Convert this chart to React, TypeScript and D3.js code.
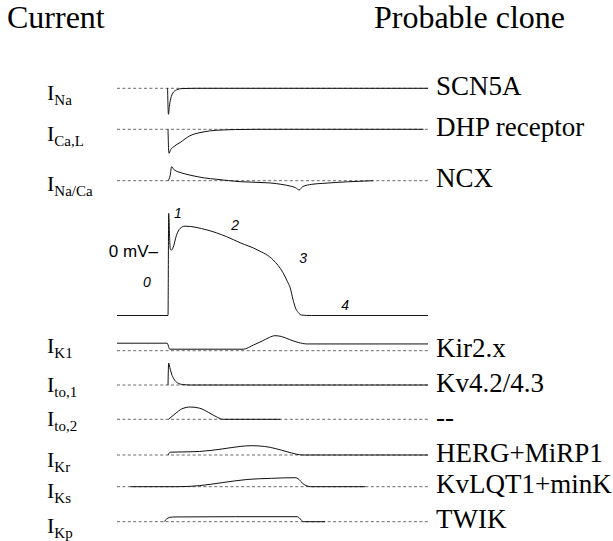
import { useEffect, useRef } from "react";
import * as d3 from "d3";

// time in ms, 0 = upstroke of the action potential
// action potential (mV)
const apTime = [-115, -1, 0.5, 2.5, 4, 6, 10, 18, 26, 37, 86, 130, 160, 200, 234, 256, 266, 272, 278, 284, 290, 298, 320, 580];
const apMv = [-85, -85, 51, 20, 4, 2, 5, 22, 31, 34, 29, 20, 12, 2, -11, -28, -40, -48, -63, -75, -81, -84.5, -85, -85];

// phase numbers on the action potential
const phaseText = ["0", "1", "2", "3", "4"];
const phaseTime = [-48, 21, 149, 301, 395];
const phaseMv = [-40, 51, 35, -8.4, -71];

// currents, relative units (outward positive)
const naTime = [-2, 0, 2, 5, 10, 18, 30, 60, 580];
const naVal = [0, -1, -0.7, -0.4, -0.18, -0.06, -0.01, 0, 0];

const caTime = [-1, 1, 5, 12, 26, 48, 75, 108, 150, 200, 570];
const caVal = [0, -1, -0.85, -0.72, -0.55, -0.27, -0.12, -0.04, -0.01, 0, 0];

const ncxTime = [-1, 4, 7, 12, 30, 48, 80, 108, 160, 227, 256, 272, 284, 292, 300, 320, 345, 400, 457];
const ncxVal = [0, 0.4, 1, 0.8, 0.55, 0.4, 0.2, 0.1, -0.07, -0.16, -0.28, -0.38, -0.5, -0.66, -0.42, -0.26, -0.19, -0.08, 0];

const k1Time = [-115, -3, 3, 167, 190, 210, 225, 238, 252, 270, 290, 310, 580];
const k1Val = [0.5, 0.5, 0.1, 0.1, 0.38, 0.65, 0.88, 1, 0.95, 0.75, 0.55, 0.45, 0.45];

const to1Time = [-1, 0.5, 3, 7, 12, 20, 32, 50, 580];
const to1Val = [0, 1, 0.8, 0.5, 0.28, 0.1, 0.02, 0, 0];

const to2Time = [0, 15, 30, 49, 70, 90, 110, 122, 250];
const to2Val = [0, 0.45, 0.85, 1, 0.9, 0.55, 0.15, 0, 0];

const krTime = [-1, 4, 30, 70, 120, 160, 185, 215, 240, 265, 285, 300, 580];
const krVal = [0, 0.3, 0.33, 0.38, 0.65, 0.92, 1, 0.92, 0.68, 0.35, 0.1, 0, 0];

const ksTime = [-85, 20, 70, 120, 175, 230, 283, 292, 300, 310, 318, 440];
const ksVal = [0, 0, 0.12, 0.45, 0.8, 0.93, 1, 0.8, 0.35, 0.08, 0, 0];

const kpTime = [-10, -4, 2, 15, 150, 288, 296, 302, 350];
const kpVal = [0, 0.55, 0.85, 0.95, 1, 1, 0.4, 0, 0];

const currents = [
  { sub: "Na", clone: "SCN5A", t: naTime, v: naVal },
  { sub: "Ca,L", clone: "DHP receptor", t: caTime, v: caVal },
  { sub: "Na/Ca", clone: "NCX", t: ncxTime, v: ncxVal },
  { sub: "K1", clone: "Kir2.x", t: k1Time, v: k1Val },
  { sub: "to,1", clone: "Kv4.2/4.3", t: to1Time, v: to1Val },
  { sub: "to,2", clone: "--", t: to2Time, v: to2Val },
  { sub: "Kr", clone: "HERG+MiRP1", t: krTime, v: krVal },
  { sub: "Ks", clone: "KvLQT1+minK", t: ksTime, v: ksVal },
  { sub: "Kp", clone: "TWIK", t: kpTime, v: kpVal },
];

// row layout: baseline y, pixels per unit, left label baseline
const rowY = [88.3, 129.3, 180.7, 350.7, 385, 419.3, 455, 486.7, 521.7];
const rowAmp = [26, 24, 14, 15, 22, 12.3, 9.3, 9, 5];
const labelY = [100, 141, 191, 353, 392, 426, 467, 498, 533];

const App = () => {
  const ref = useRef<SVGSVGElement | null>(null);

  useEffect(() => {
    const svg = d3.select(ref.current);
    svg.selectAll("*").remove();

    const serif = "Liberation Serif, Times New Roman, serif";
    const sans = "Liberation Sans, Arial, sans-serif";

    const x = d3.scaleLinear().domain([-115, 580]).range([117, 428]);

    // headers
    svg.append("text").attr("x", 7).attr("y", 28)
      .attr("font-family", serif).attr("font-size", 32).text("Current");
    svg.append("text").attr("x", 565).attr("y", 28).attr("text-anchor", "end")
      .attr("font-family", serif).attr("font-size", 32).text("Probable clone");

    currents.forEach((c, i) => {
      const y0 = rowY[i];
      const y = d3.scaleLinear().domain([0, 1]).range([y0, y0 - rowAmp[i]]);

      // dashed zero line
      svg.append("line")
        .attr("x1", x(-115)).attr("x2", x(580))
        .attr("y1", y(0)).attr("y2", y(0))
        .attr("stroke", "#444").attr("stroke-width", 0.8)
        .attr("stroke-dasharray", "3,2.4");

      const pts = c.t.map((t, j) => [t, c.v[j]] as [number, number]);
      const line = d3.line<[number, number]>()
        .x((d) => x(d[0]))
        .y((d) => y(d[1]))
        .curve(d3.curveMonotoneX);
      svg.append("path").attr("d", line(pts))
        .attr("fill", "none").attr("stroke", "#111").attr("stroke-width", 1);

      // left label
      const lab = svg.append("text").attr("x", 47).attr("y", labelY[i])
        .attr("font-family", serif).attr("font-size", 22);
      lab.append("tspan").text("I");
      lab.append("tspan").attr("font-size", 15).attr("dy", 5).text(c.sub);

      // right label
      svg.append("text").attr("x", 436).attr("y", y0 + 6.5)
        .attr("font-family", serif).attr("font-size", 27).text(c.clone);
    });

    // action potential
    const mv = d3.scaleLinear().domain([-85, 0]).range([315.5, 251.7]);
    const apPts = apTime.map((t, j) => [t, apMv[j]] as [number, number]);
    const apLine = d3.line<[number, number]>()
      .x((d) => x(d[0]))
      .y((d) => mv(d[1]))
      .curve(d3.curveMonotoneX);
    svg.append("path").attr("d", apLine(apPts))
      .attr("fill", "none").attr("stroke", "#111").attr("stroke-width", 1);

    svg.append("text").attr("x", 158).attr("y", mv(0))
      .attr("text-anchor", "end").attr("dominant-baseline", "central")
      .attr("font-family", sans).attr("font-size", 17).text("0 mV\u2013");

    phaseText.forEach((p, j) => {
      svg.append("text").attr("x", x(phaseTime[j])).attr("y", mv(phaseMv[j]))
        .attr("text-anchor", "middle").attr("dominant-baseline", "central")
        .attr("font-family", sans).attr("font-style", "italic").attr("font-size", 14)
        .text(p);
    });
  }, []);

  return (
    <div style={{ position: "absolute", left: 0, top: 0 }}>
      <svg ref={ref} width={613} height={541} style={{ display: "block", background: "#fff" }} />
    </div>
  );
};

export default App;
